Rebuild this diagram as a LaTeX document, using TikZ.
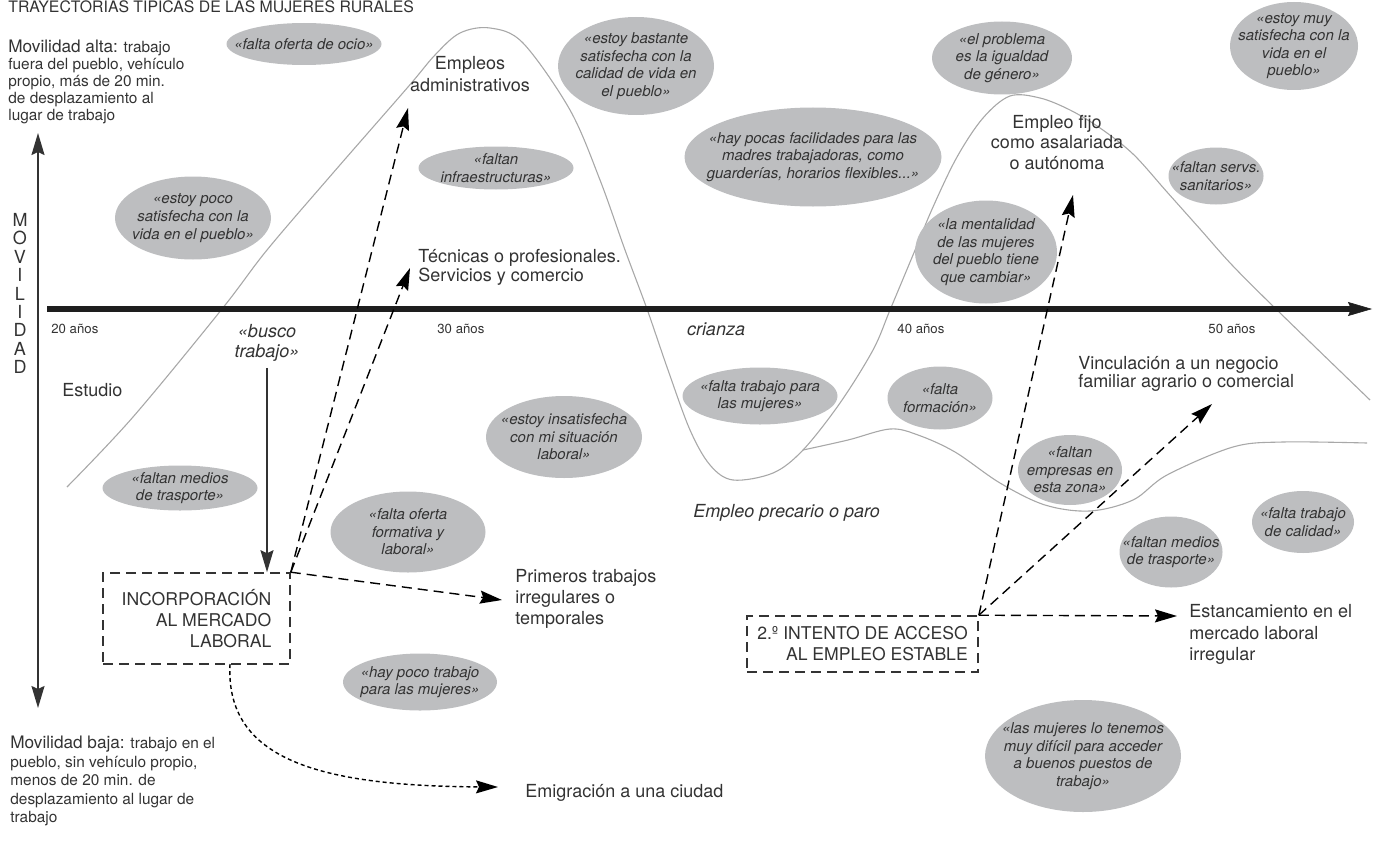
\documentclass[tikz,border=0pt]{standalone}
\usepackage{fontspec}
\setmainfont{TeX Gyre Heros}
\usetikzlibrary{arrows.meta}
\definecolor{ink}{HTML}{333333}
\definecolor{bubblegray}{HTML}{BDBEC0}
\definecolor{trailgray}{HTML}{A8A8A8}
\definecolor{axisdk}{HTML}{1E1E1E}

\tikzset{
  quote/.style={font=\fontsize{7.5}{8.8}\selectfont\itshape, align=center},
  lbl/.style={font=\fontsize{9}{10.5}\selectfont},
  agelbl/.style={font=\fontsize{6.6}{8}\selectfont, anchor=west},
  stagebox/.style={draw=ink, line width=0.8pt, dash pattern=on 5pt off 3pt,
    align=right, font=\fontsize{8.8}{10.5}\selectfont},
  flow/.style={->, draw=black, line width=0.7pt, dash pattern=on 5pt off 3pt},
  trail/.style={draw=trailgray, line width=0.55pt},
}

\begin{document}
\begin{tikzpicture}[x=0.5pt, y=-0.5pt,
  >={Stealth[length=11pt, width=6.5pt, inset=1.5pt]},
  every node/.style={text=ink, inner sep=0pt}]

\useasboundingbox (0,0) rectangle (1374,840);

% Title
\node[font=\fontsize{7.9}{9}\selectfont, anchor=base west] (title) at (8,12.5)
  {TRAYECTORIAS TÍPICAS DE LAS MUJERES RURALES};

% Trajectories
\draw[trail] plot[smooth, tension=0.55] coordinates {
  (67,487) (133,417) (222,309) (267,250) (333,173) (408,87) (435,55) (460,33)
  (490,28) (523,43) (570,110) (600,180) (625,250) (647,309) (668,370) (690,430)
  (710,465) (733,480) (773,473) (803,450) (840,403) (873,350) (890,310)
  (913,255) (933,207) (957,157) (983,118) (1010,96) (1040,98) (1070,110)
  (1100,128) (1133,154) (1167,192) (1200,229) (1232,265) (1277,310) (1370,400)
};
\draw[trail] plot[smooth, tension=0.55] coordinates {
  (803,450) (848,440) (890,429) (918,435) (955,452) (1000,483) (1045,505)
  (1090,511) (1133,500) (1167,475) (1233,447) (1283,442) (1367,443)
};

% Mobility axis
\coordinate (mobTop) at (38,133);
\coordinate (mobBot) at (38,708);
\draw[<->, draw=ink, line width=0.8pt] (mobTop) -- (mobBot);
\node[font=\fontsize{9}{9.2}\selectfont, align=center] (mobLbl) at (20,293.5)
  {M\\O\\V\\I\\L\\I\\D\\A\\D};

\node[font=\fontsize{7.7}{8.4}\selectfont, align=left, anchor=north west] (mobHigh) at (8,40)
  {{\fontsize{8.6}{8.4}\selectfont Movilidad alta:} trabajo\\fuera del pueblo, vehículo\\propio, más de 20 min.\\de desplazamiento al\\lugar de trabajo};
\node[font=\fontsize{7.7}{9.25}\selectfont, align=left, anchor=north west] (mobLow) at (10,736)
  {{\fontsize{8.6}{9.25}\selectfont Movilidad baja:} trabajo en el\\pueblo, sin vehículo propio,\\menos de 20 min. de\\desplazamiento al lugar de\\trabajo};

% Time axis
\coordinate (ageStart) at (47,309);
\coordinate (ageEnd) at (1372,309);
\draw[-{Stealth[length=12pt, width=7pt, inset=1.5pt, line width=0.3pt]}, draw=axisdk, line width=3pt]
  (ageStart) -- (ageEnd);
\node[agelbl] (age20) at (51,329) {20 años};
\node[agelbl] (age30) at (437,329) {30 años};
\node[agelbl] (age40) at (897,329) {40 años};
\node[agelbl] (age50) at (1208,329) {50 años};
\node[lbl, font=\fontsize{9}{10.5}\selectfont\itshape] (crianza) at (716,329) {crianza};

% Quotes
\fill[bubblegray] (304,44) ellipse [x radius=77.5, y radius=21];
\node[quote] (ocio) at (304,44) {«falta oferta de ocio»};
\fill[bubblegray] (193,218) ellipse [x radius=78, y radius=41.5];
\node[quote] (pocoSat) at (193,218) {«estoy poco\\satisfecha con la\\vida en el pueblo»};
\fill[bubblegray] (636,66) ellipse [x radius=78, y radius=49];
\node[quote] (bastante) at (636,66) {«estoy bastante\\satisfecha con la\\calidad de vida en\\el pueblo»};
\fill[bubblegray] (496,168) ellipse [x radius=77.5, y radius=21.5];
\node[quote] (infra) at (496,168) {«faltan\\infraestructuras»};
\fill[bubblegray] (813,157) ellipse [x radius=128.5, y radius=49.5];
\node[quote] (madres) at (813,157) {«hay pocas facilidades para las\\madres trabajadoras, como\\guarderías, horarios flexibles...»};
\fill[bubblegray] (1002,58) ellipse [x radius=70, y radius=36.5];
\node[quote] (igualdad) at (1002,58) {«el problema\\es la igualdad\\de género»};
\fill[bubblegray] (1294,46) ellipse [x radius=64, y radius=44];
\node[quote] (muySat) at (1294,46) {«estoy muy\\satisfecha con la\\vida en el\\pueblo»};
\fill[bubblegray] (1216,176) ellipse [x radius=47.5, y radius=28.5];
\node[quote] (sanit) at (1216,176) {«faltan servs.\\sanitarios»};
\fill[bubblegray] (986,252) ellipse [x radius=71, y radius=51.5];
\node[quote] (mental) at (986,252) {«la mentalidad\\de las mujeres\\del pueblo tiene\\que cambiar»};
\fill[bubblegray] (180,488) ellipse [x radius=77.5, y radius=22.5];
\node[quote] (mediosA) at (180,488) {«faltan medios\\de trasporte»};
\fill[bubblegray] (564,437) ellipse [x radius=78, y radius=41];
\node[quote] (insat) at (564,437) {«estoy insatisfecha\\con mi situación\\laboral»};
\fill[bubblegray] (760,396) ellipse [x radius=77.5, y radius=28.5];
\node[quote] (trabMuj) at (760,396) {«falta trabajo para\\las mujeres»};
\fill[bubblegray] (940,398) ellipse [x radius=52.5, y radius=31.5];
\node[quote] (formac) at (940,398) {«falta\\formación»};
\fill[bubblegray] (1070,470) ellipse [x radius=52, y radius=35];
\node[quote] (empresas) at (1070,470) {«faltan\\empresas en\\esta zona»};
\fill[bubblegray] (408,532) ellipse [x radius=77.5, y radius=40.5];
\node[quote] (oferta) at (408,532) {«falta oferta\\formativa y\\laboral»};
\fill[bubblegray] (420,682) ellipse [x radius=77, y radius=28.5];
\node[quote] (pocoTrab) at (420,682) {«hay poco trabajo\\para las mujeres»};
\fill[bubblegray] (1303,522) ellipse [x radius=51, y radius=31];
\node[quote] (calidad) at (1303,522) {«falta trabajo\\de calidad»};
\fill[bubblegray] (1171,552) ellipse [x radius=51.5, y radius=35.5];
\node[quote] (mediosB) at (1171,552) {«faltan medios\\de trasporte»};
\fill[bubblegray] (1083,756) ellipse [x radius=98, y radius=56];
\node[quote] (dificil) at (1083,756) {«las mujeres lo tenemos\\muy difícil para acceder\\a buenos puestos de\\trabajo»};

% Situations
\node[lbl, align=left, anchor=west] (estudio) at (62,390) {Estudio};
\node[lbl, font=\fontsize{9}{10}\selectfont\itshape, align=center] (busco) at (267,343) {«busco\\trabajo»};
\node[lbl, font=\fontsize{9}{11}\selectfont, align=center] (admin) at (470,74) {Empleos\\administrativos};
\node[lbl, font=\fontsize{9}{9.5}\selectfont, align=left, anchor=west] (tecn) at (418,267.5) {Técnicas o profesionales.\\Servicios y comercio};
\node[lbl, font=\fontsize{9}{10.5}\selectfont\itshape, anchor=west] (precario) at (693,513) {Empleo precario o paro};
\node[lbl, align=left, anchor=west] (primeros) at (515,599) {Primeros trabajos\\irregulares o\\temporales};
\node[lbl, anchor=west] (emig) at (525,793) {Emigración a una ciudad};
\node[lbl, font=\fontsize{9}{10.3}\selectfont, align=center] (fijo) at (1057,142.5) {Empleo fijo\\como asalariada\\o autónoma};
\node[lbl, font=\fontsize{9}{9.2}\selectfont, align=left, anchor=west] (vinc) at (1078,374) {Vinculación a un negocio\\familiar agrario o comercial};
\node[lbl, font=\fontsize{9}{10.7}\selectfont, align=left, anchor=west] (estanc) at (1189,634.5) {Estancamiento en el\\mercado laboral\\irregular};

% Stages
\node[stagebox, minimum width=93.5pt, minimum height=45.5pt] (incorp) at (196.5,618.5)
  {INCORPORACIÓN\\AL MERCADO\\LABORAL};
\node[stagebox, minimum width=115.5pt, minimum height=28pt] (intento) at (862.5,644)
  {2.º INTENTO DE ACCESO\\AL EMPLEO ESTABLE};

% Paths out of each stage
\coordinate (tipAdmin) at (408,108);
\coordinate (tipTecn) at (410,268);
\coordinate (tipPrim) at (502,600);
\coordinate (emigFrom) at (230,664);
\coordinate (tipEmig) at (498,787);
\coordinate (tipFijo) at (1073,195);
\coordinate (tipVinc) at (1212,404);
\coordinate (tipEstanc) at (1177,616);

\draw[->, draw=ink, line width=0.7pt] ([yshift=-3pt]busco.south) -- (busco.south |- incorp.north);
\draw[flow] (incorp.north east) -- (tipAdmin);
\draw[flow] (incorp.north east) -- (tipTecn);
\draw[flow] (incorp.north east) -- (tipPrim);
\draw[flow, dash pattern=on 2pt off 1.5pt] (emigFrom) .. controls (225,760) and (320,786) .. (tipEmig);
\draw[flow] (intento.north east) -- (tipFijo);
\draw[flow] (intento.north east) -- (tipVinc);
\draw[flow] (intento.north east) -- (tipEstanc);

\end{tikzpicture}
\end{document}
